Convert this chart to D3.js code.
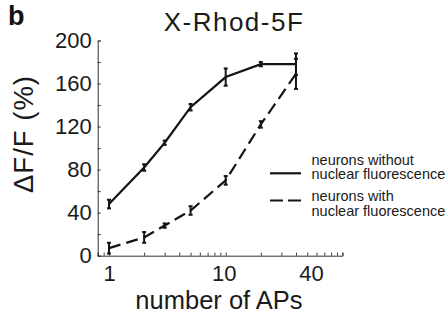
<!DOCTYPE html>
<html>
<head>
<meta charset="utf-8">
<script src="https://cdn.jsdelivr.net/npm/d3@7"></script>
<style>
	body { margin: 0; background: #fff; }
	svg { display: block; font-family: "Liberation Sans", Arial, Helvetica, sans-serif; }
	.axis path, .axis line { stroke: #333; stroke-width: 1; }
	.axis text { font-size: 22px; fill: #1a1a1a; font-family: "Liberation Sans", Arial, Helvetica, sans-serif; }
</style>
</head>
<body>
<div id="chart"></div>
<script>
// number of APs (x) and mean dF/F (%) with error bars
const apCounts = [1, 2, 3, 5, 10, 20, 40];
const withoutNuclear = [48, 82, 105, 138, 166, 178, 178];
const withoutNuclearErr = [4, 3, 2, 3, 8, 2, 10];
const withNuclear = [7, 17, 28, 42, 70, 122, 169];
const withNuclearErr = [5, 5, 2, 4, 4, 3, 14];

const xTickLabels = [1, 10, 40];
const yTickLabels = [0, 40, 80, 120, 160, 200];

const width = 448, height = 322;

const svg = d3.select("#chart").append("svg")
	.attr("width", width)
	.attr("height", height);

const x = d3.scaleLog().domain([0.8, 100]).range([97.7, 342.4]);
const y = d3.scaleLinear().domain([0, 200]).range([255.7, 40.5]);

// axes, ticks pointing inward like the original
const xAxis = d3.axisBottom(x)
	.tickValues(x.ticks())
	.tickSize(-3)
	.tickPadding(10)
	.tickFormat(d => xTickLabels.includes(d) ? d : "");

svg.append("g")
	.attr("class", "axis axis--x")
	.attr("transform", `translate(0,${y(0)})`)
	.call(xAxis)
	.selectAll("text")
	.attr("dx", d => d === 40 ? 15 : (d === 10 ? -2 : 0));

const yAxis = d3.axisLeft(y)
	.tickValues(d3.range(0, 201, 20))
	.tickSize(-3)
	.tickPadding(6)
	.tickFormat(d => yTickLabels.includes(d) ? d : "");

svg.append("g")
	.attr("class", "axis axis--y")
	.attr("transform", `translate(${x.range()[0]},0)`)
	.call(yAxis);

// series
const series = [
	{ values: withoutNuclear, err: withoutNuclearErr, dash: null },
	{ values: withNuclear, err: withNuclearErr, dash: "12,6" }
];

const line = d3.line()
	.x(d => x(d.ap))
	.y(d => y(d.v));

series.forEach(s => {
	const pts = apCounts.map((ap, i) => ({ ap: ap, v: s.values[i], e: s.err[i] }));

	svg.append("path")
		.datum(pts)
		.attr("fill", "none")
		.attr("stroke", "#141414")
		.attr("stroke-width", 2.2)
		.attr("stroke-dasharray", s.dash)
		.attr("d", line);

	const bars = svg.append("g")
		.attr("stroke", "#141414")
		.attr("stroke-width", 2);

	bars.selectAll("line.bar").data(pts).enter()
		.append("line")
		.attr("class", "bar")
		.attr("x1", d => x(d.ap)).attr("x2", d => x(d.ap))
		.attr("y1", d => y(d.v - d.e)).attr("y2", d => y(d.v + d.e));

	bars.selectAll("line.capTop").data(pts).enter()
		.append("line")
		.attr("class", "capTop")
		.attr("x1", d => x(d.ap) - 2).attr("x2", d => x(d.ap) + 2)
		.attr("y1", d => y(d.v + d.e)).attr("y2", d => y(d.v + d.e));

	bars.selectAll("line.capBot").data(pts).enter()
		.append("line")
		.attr("class", "capBot")
		.attr("x1", d => x(d.ap) - 2).attr("x2", d => x(d.ap) + 2)
		.attr("y1", d => y(d.v - d.e)).attr("y2", d => y(d.v - d.e));
});

// titles and labels
svg.append("text")
	.attr("x", 8).attr("y", 25)
	.attr("font-size", 27).attr("font-weight", "bold")
	.attr("fill", "#111")
	.text("b");

svg.append("text")
	.attr("x", 234).attr("y", 31)
	.attr("text-anchor", "middle")
	.attr("font-size", 26)
	.attr("letter-spacing", 1.5)
	.attr("fill", "#1a1a1a")
	.text("X-Rhod-5F");

svg.append("text")
	.attr("x", 219).attr("y", 309)
	.attr("text-anchor", "middle")
	.attr("font-size", 25.5)
	.attr("fill", "#1a1a1a")
	.text("number of APs");

svg.append("text")
	.attr("transform", "translate(33,134) rotate(-90)")
	.attr("text-anchor", "middle")
	.attr("font-size", 27.5)
	.attr("letter-spacing", 1)
	.attr("fill", "#1a1a1a")
	.text("ΔF/F (%)");

// legend
const legendItems = [
	{ lines: ["neurons without", "nuclear fluorescence"], dash: null, lineY: 173.3, textY: 164.5 },
	{ lines: ["neurons with", "nuclear fluorescence"], dash: "13,5", lineY: 200.5, textY: 201.2 }
];

legendItems.forEach(item => {
	svg.append("line")
		.attr("x1", 270).attr("x2", 301)
		.attr("y1", item.lineY).attr("y2", item.lineY)
		.attr("stroke", "#141414")
		.attr("stroke-width", 2.2)
		.attr("stroke-dasharray", item.dash);

	item.lines.forEach((s, i) => {
		svg.append("text")
			.attr("x", 311.5)
			.attr("y", item.textY + i * 14.8)
			.attr("font-size", 14.5)
			.attr("fill", "#1a1a1a")
			.text(s);
	});
});
</script>
</body>
</html>
